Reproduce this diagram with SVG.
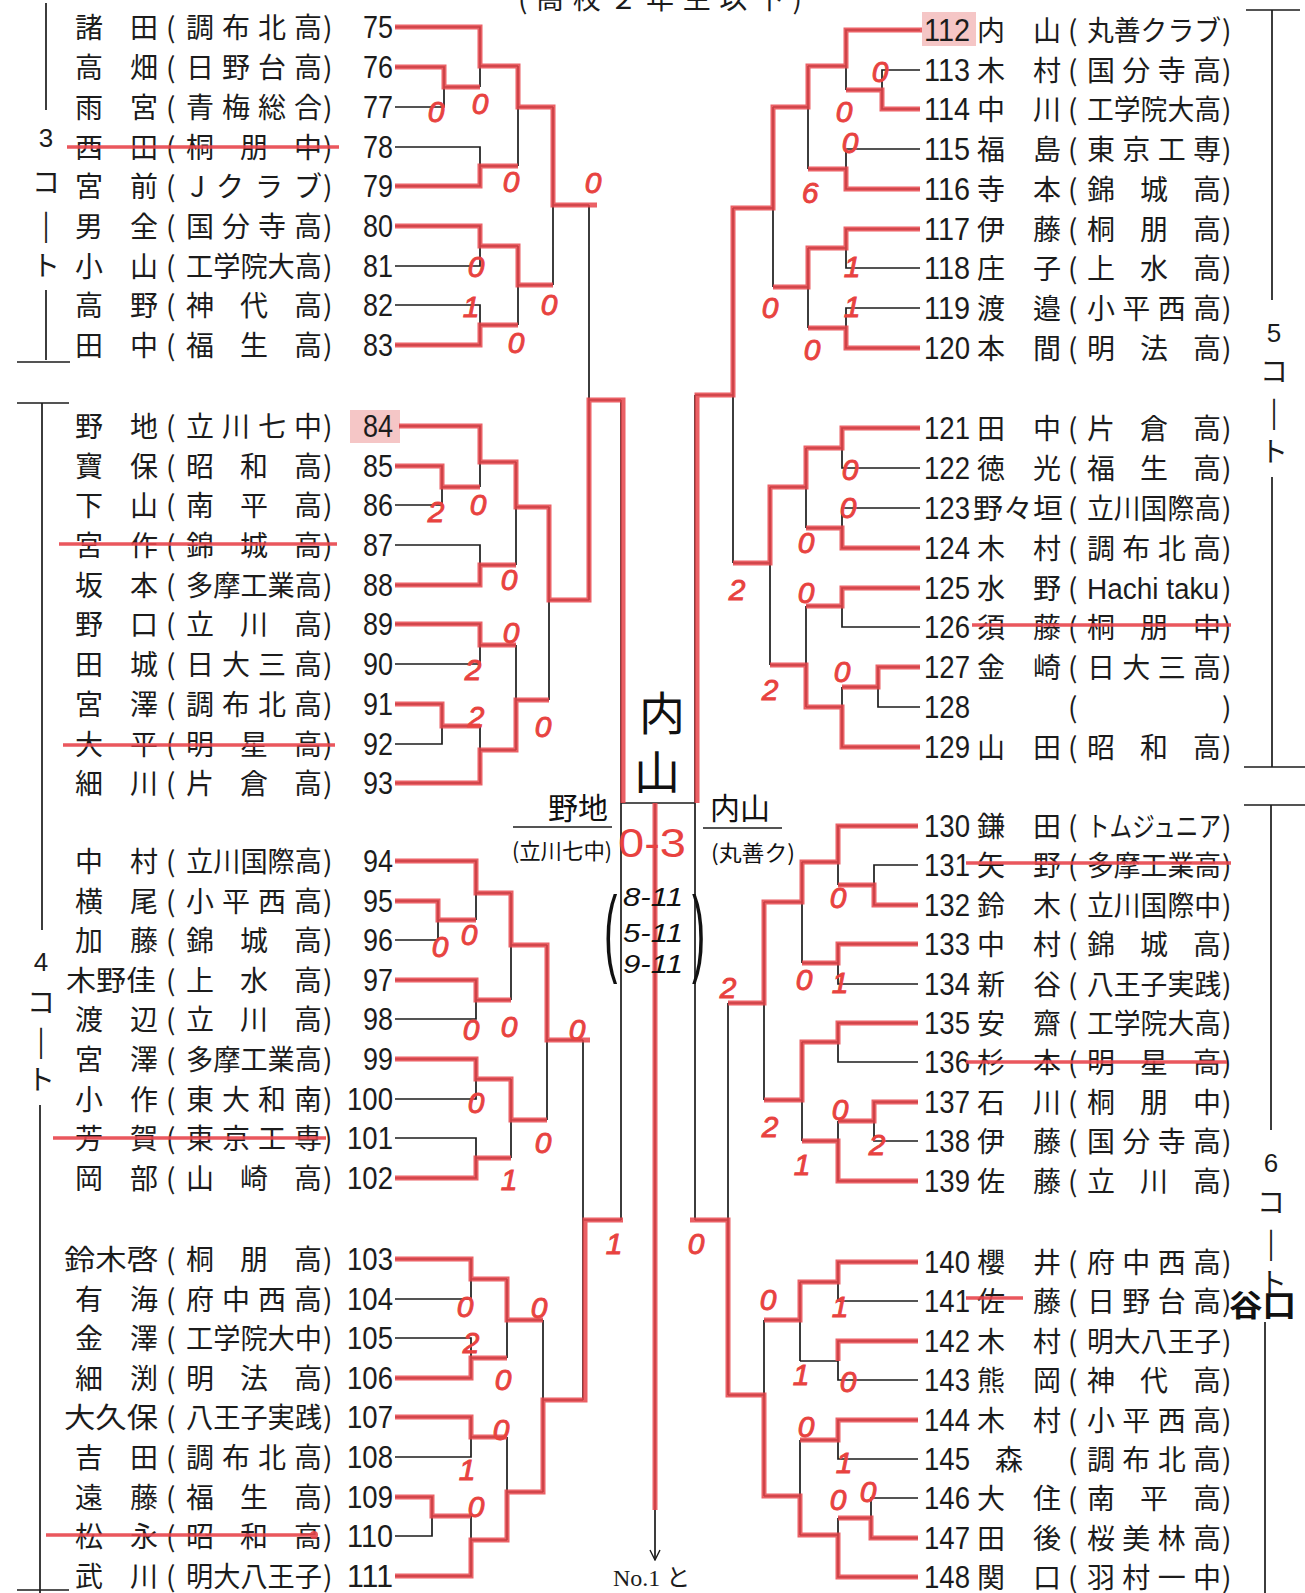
<svg xmlns="http://www.w3.org/2000/svg" width="1305" height="1593" viewBox="0 0 1305 1593">
<defs>
<style>
.n{font-family:"Noto Sans CJK JP","Noto Sans CJK SC",sans-serif;font-size:28px;fill:#1c1c1c}
.d{font-family:"Liberation Sans",Arial,sans-serif;font-size:31px;fill:#1c1c1c}
.e{text-anchor:end}
.bl{stroke:#1c1c1c;stroke-width:1.7;fill:none}
.rd{stroke:#e8454b;stroke-width:5;fill:none;opacity:0.85;stroke-linejoin:miter}
.st{stroke:#e8454b;stroke-width:3.5;fill:none;opacity:0.9}
.s{font-family:"Liberation Sans",Arial,sans-serif;font-style:italic;font-size:30px;fill:#e8423f;stroke:#e8423f;stroke-width:0.9;text-anchor:middle}
.hw{font-family:"Noto Sans CJK JP","Noto Sans CJK SC",sans-serif;fill:#111}
.hs{font-family:"Liberation Sans",Arial,sans-serif;font-style:italic;fill:#111}
.hl{fill:#f2b3b3;opacity:0.75}
</style>
<marker id="ar" viewBox="0 0 12 12" refX="11" refY="6" markerWidth="12" markerHeight="12" markerUnits="userSpaceOnUse" orient="auto">
<path d="M1 1 L11 6 L1 11" stroke="#1c1c1c" stroke-width="1.4" fill="none"/>
</marker>
</defs>
<rect width="1305" height="1593" fill="#ffffff"/>

<text class="n" x="518" y="9" textLength="284">(高校２年生以下)</text>

<rect class="hl" x="350" y="410" width="50" height="33"/>
<rect class="hl" x="922" y="12" width="54" height="34"/>

<g id="courts" class="bl">
<path d="M46 3V110M46 290V360M17 362H70"/>
<path d="M17 403H69M42 403V930M40 1105V1593M17 1590H69"/>
<path d="M1246 10H1300M1272 10V300M1272 477V767M1244 767H1305"/>
<path d="M1244 805H1305M1271 805V1130M1265 1322V1593"/>
</g>
<g id="courtlabels">
<text class="d" x="46" y="147" text-anchor="middle" style="font-size:26px">3</text>
<text class="n" x="46" y="193" text-anchor="middle">コ</text>
<text class="n" x="46" y="235" text-anchor="middle">|</text>
<text class="n" x="46" y="276" text-anchor="middle">ト</text>
<text class="d" x="41" y="971" text-anchor="middle" style="font-size:26px">4</text>
<text class="n" x="41" y="1013" text-anchor="middle">コ</text>
<text class="n" x="41" y="1051" text-anchor="middle">|</text>
<text class="n" x="41" y="1090" text-anchor="middle">ト</text>
<text class="d" x="1274" y="342" text-anchor="middle" style="font-size:26px">5</text>
<text class="n" x="1274" y="382" text-anchor="middle">コ</text>
<text class="n" x="1274" y="422" text-anchor="middle">|</text>
<text class="n" x="1274" y="462" text-anchor="middle">ト</text>
<text class="d" x="1271" y="1172" text-anchor="middle" style="font-size:26px">6</text>
<text class="n" x="1271" y="1213" text-anchor="middle">コ</text>
<text class="n" x="1271" y="1253" text-anchor="middle">|</text>
<text class="n" x="1273" y="1293" text-anchor="middle">ト</text>
</g>

<!-- LEFT ROWS -->
<g id="p75"><text class="n" x="75" y="37.5" textLength="83">諸田</text><text class="n" x="166" y="37.5">(</text><text class="n" x="186" y="37.5" textLength="136">調布北高</text><text class="n" x="323" y="37.5">)</text><text class="d e" x="393" y="38" textLength="30" lengthAdjust="spacingAndGlyphs">75</text></g>
<g id="p76"><text class="n" x="75" y="77.5" textLength="83">高畑</text><text class="n" x="166" y="77.5">(</text><text class="n" x="186" y="77.5" textLength="136">日野台高</text><text class="n" x="323" y="77.5">)</text><text class="d e" x="393" y="78" textLength="30" lengthAdjust="spacingAndGlyphs">76</text></g>
<g id="p77"><text class="n" x="75" y="117.5" textLength="83">雨宮</text><text class="n" x="166" y="117.5">(</text><text class="n" x="186" y="117.5" textLength="136">青梅総合</text><text class="n" x="323" y="117.5">)</text><text class="d e" x="393" y="118" textLength="30" lengthAdjust="spacingAndGlyphs">77</text></g>
<g id="p78"><text class="n" x="75" y="157.5" textLength="83">西田</text><text class="n" x="166" y="157.5">(</text><text class="n" x="186" y="157.5" textLength="136">桐朋中</text><text class="n" x="323" y="157.5">)</text><text class="d e" x="393" y="158" textLength="30" lengthAdjust="spacingAndGlyphs">78</text></g>
<g id="p79"><text class="n" x="75" y="196.5" textLength="83">宮前</text><text class="n" x="166" y="196.5">(</text><text class="n" x="190" y="196.5" textLength="132">Jクラブ</text><text class="n" x="323" y="196.5">)</text><text class="d e" x="393" y="197" textLength="30" lengthAdjust="spacingAndGlyphs">79</text></g>
<g id="p80"><text class="n" x="75" y="236.5" textLength="83">男全</text><text class="n" x="166" y="236.5">(</text><text class="n" x="186" y="236.5" textLength="136">国分寺高</text><text class="n" x="323" y="236.5">)</text><text class="d e" x="393" y="237" textLength="30" lengthAdjust="spacingAndGlyphs">80</text></g>
<g id="p81"><text class="n" x="75" y="276.5" textLength="83">小山</text><text class="n" x="166" y="276.5">(</text><text class="n" x="186" y="276.5" textLength="136" lengthAdjust="spacingAndGlyphs">工学院大高</text><text class="n" x="323" y="276.5">)</text><text class="d e" x="393" y="277" textLength="30" lengthAdjust="spacingAndGlyphs">81</text></g>
<g id="p82"><text class="n" x="75" y="315.5" textLength="83">高野</text><text class="n" x="166" y="315.5">(</text><text class="n" x="186" y="315.5" textLength="136">神代高</text><text class="n" x="323" y="315.5">)</text><text class="d e" x="393" y="316" textLength="30" lengthAdjust="spacingAndGlyphs">82</text></g>
<g id="p83"><text class="n" x="75" y="355.5" textLength="83">田中</text><text class="n" x="166" y="355.5">(</text><text class="n" x="186" y="355.5" textLength="136">福生高</text><text class="n" x="323" y="355.5">)</text><text class="d e" x="393" y="356" textLength="30" lengthAdjust="spacingAndGlyphs">83</text></g>
<g id="p84"><text class="n" x="75" y="436.5" textLength="83">野地</text><text class="n" x="166" y="436.5">(</text><text class="n" x="186" y="436.5" textLength="136">立川七中</text><text class="n" x="323" y="436.5">)</text><text class="d e" x="393" y="437" textLength="30" lengthAdjust="spacingAndGlyphs">84</text></g>
<g id="p85"><text class="n" x="75" y="476.5" textLength="83">寶保</text><text class="n" x="166" y="476.5">(</text><text class="n" x="186" y="476.5" textLength="136">昭和高</text><text class="n" x="323" y="476.5">)</text><text class="d e" x="393" y="477" textLength="30" lengthAdjust="spacingAndGlyphs">85</text></g>
<g id="p86"><text class="n" x="75" y="515.5" textLength="83">下山</text><text class="n" x="166" y="515.5">(</text><text class="n" x="186" y="515.5" textLength="136">南平高</text><text class="n" x="323" y="515.5">)</text><text class="d e" x="393" y="516" textLength="30" lengthAdjust="spacingAndGlyphs">86</text></g>
<g id="p87"><text class="n" x="75" y="555.5" textLength="83">宮作</text><text class="n" x="166" y="555.5">(</text><text class="n" x="186" y="555.5" textLength="136">錦城高</text><text class="n" x="323" y="555.5">)</text><text class="d e" x="393" y="556" textLength="30" lengthAdjust="spacingAndGlyphs">87</text></g>
<g id="p88"><text class="n" x="75" y="595.5" textLength="83">坂本</text><text class="n" x="166" y="595.5">(</text><text class="n" x="186" y="595.5" textLength="136" lengthAdjust="spacingAndGlyphs">多摩工業高</text><text class="n" x="323" y="595.5">)</text><text class="d e" x="393" y="596" textLength="30" lengthAdjust="spacingAndGlyphs">88</text></g>
<g id="p89"><text class="n" x="75" y="634.5" textLength="83">野口</text><text class="n" x="166" y="634.5">(</text><text class="n" x="186" y="634.5" textLength="136">立川高</text><text class="n" x="323" y="634.5">)</text><text class="d e" x="393" y="635" textLength="30" lengthAdjust="spacingAndGlyphs">89</text></g>
<g id="p90"><text class="n" x="75" y="674.5" textLength="83">田城</text><text class="n" x="166" y="674.5">(</text><text class="n" x="186" y="674.5" textLength="136">日大三高</text><text class="n" x="323" y="674.5">)</text><text class="d e" x="393" y="675" textLength="30" lengthAdjust="spacingAndGlyphs">90</text></g>
<g id="p91"><text class="n" x="75" y="714.5" textLength="83">宮澤</text><text class="n" x="166" y="714.5">(</text><text class="n" x="186" y="714.5" textLength="136">調布北高</text><text class="n" x="323" y="714.5">)</text><text class="d e" x="393" y="715" textLength="30" lengthAdjust="spacingAndGlyphs">91</text></g>
<g id="p92"><text class="n" x="75" y="754.5" textLength="83">大平</text><text class="n" x="166" y="754.5">(</text><text class="n" x="186" y="754.5" textLength="136">明星高</text><text class="n" x="323" y="754.5">)</text><text class="d e" x="393" y="755" textLength="30" lengthAdjust="spacingAndGlyphs">92</text></g>
<g id="p93"><text class="n" x="75" y="793.5" textLength="83">細川</text><text class="n" x="166" y="793.5">(</text><text class="n" x="186" y="793.5" textLength="136">片倉高</text><text class="n" x="323" y="793.5">)</text><text class="d e" x="393" y="794" textLength="30" lengthAdjust="spacingAndGlyphs">93</text></g>
<g id="p94"><text class="n" x="75" y="871.5" textLength="83">中村</text><text class="n" x="166" y="871.5">(</text><text class="n" x="186" y="871.5" textLength="136" lengthAdjust="spacingAndGlyphs">立川国際高</text><text class="n" x="323" y="871.5">)</text><text class="d e" x="393" y="872" textLength="30" lengthAdjust="spacingAndGlyphs">94</text></g>
<g id="p95"><text class="n" x="75" y="911.5" textLength="83">横尾</text><text class="n" x="166" y="911.5">(</text><text class="n" x="186" y="911.5" textLength="136">小平西高</text><text class="n" x="323" y="911.5">)</text><text class="d e" x="393" y="912" textLength="30" lengthAdjust="spacingAndGlyphs">95</text></g>
<g id="p96"><text class="n" x="75" y="950.5" textLength="83">加藤</text><text class="n" x="166" y="950.5">(</text><text class="n" x="186" y="950.5" textLength="136">錦城高</text><text class="n" x="323" y="950.5">)</text><text class="d e" x="393" y="951" textLength="30" lengthAdjust="spacingAndGlyphs">96</text></g>
<g id="p97"><text class="n" x="66" y="990.5" textLength="90" lengthAdjust="spacingAndGlyphs">木野佳</text><text class="n" x="166" y="990.5">(</text><text class="n" x="186" y="990.5" textLength="136">上水高</text><text class="n" x="323" y="990.5">)</text><text class="d e" x="393" y="991" textLength="30" lengthAdjust="spacingAndGlyphs">97</text></g>
<g id="p98"><text class="n" x="75" y="1029.5" textLength="83">渡辺</text><text class="n" x="166" y="1029.5">(</text><text class="n" x="186" y="1029.5" textLength="136">立川高</text><text class="n" x="323" y="1029.5">)</text><text class="d e" x="393" y="1030" textLength="30" lengthAdjust="spacingAndGlyphs">98</text></g>
<g id="p99"><text class="n" x="75" y="1069.5" textLength="83">宮澤</text><text class="n" x="166" y="1069.5">(</text><text class="n" x="186" y="1069.5" textLength="136" lengthAdjust="spacingAndGlyphs">多摩工業高</text><text class="n" x="323" y="1069.5">)</text><text class="d e" x="393" y="1070" textLength="30" lengthAdjust="spacingAndGlyphs">99</text></g>
<g id="p100"><text class="n" x="75" y="1109.5" textLength="83">小作</text><text class="n" x="166" y="1109.5">(</text><text class="n" x="186" y="1109.5" textLength="136">東大和南</text><text class="n" x="323" y="1109.5">)</text><text class="d e" x="393" y="1110" textLength="46" lengthAdjust="spacingAndGlyphs">100</text></g>
<g id="p101"><text class="n" x="75" y="1148.5" textLength="83">芳賀</text><text class="n" x="166" y="1148.5">(</text><text class="n" x="186" y="1148.5" textLength="136">東京工専</text><text class="n" x="323" y="1148.5">)</text><text class="d e" x="393" y="1149" textLength="46" lengthAdjust="spacingAndGlyphs">101</text></g>
<g id="p102"><text class="n" x="75" y="1188.5" textLength="83">岡部</text><text class="n" x="166" y="1188.5">(</text><text class="n" x="186" y="1188.5" textLength="136">山崎高</text><text class="n" x="323" y="1188.5">)</text><text class="d e" x="393" y="1189" textLength="46" lengthAdjust="spacingAndGlyphs">102</text></g>
<g id="p103"><text class="n" x="64" y="1269.5" textLength="94" lengthAdjust="spacingAndGlyphs">鈴木啓</text><text class="n" x="166" y="1269.5">(</text><text class="n" x="186" y="1269.5" textLength="136">桐朋高</text><text class="n" x="323" y="1269.5">)</text><text class="d e" x="393" y="1270" textLength="46" lengthAdjust="spacingAndGlyphs">103</text></g>
<g id="p104"><text class="n" x="75" y="1309.5" textLength="83">有海</text><text class="n" x="166" y="1309.5">(</text><text class="n" x="186" y="1309.5" textLength="136">府中西高</text><text class="n" x="323" y="1309.5">)</text><text class="d e" x="393" y="1310" textLength="46" lengthAdjust="spacingAndGlyphs">104</text></g>
<g id="p105"><text class="n" x="75" y="1348.5" textLength="83">金澤</text><text class="n" x="166" y="1348.5">(</text><text class="n" x="186" y="1348.5" textLength="136" lengthAdjust="spacingAndGlyphs">工学院大中</text><text class="n" x="323" y="1348.5">)</text><text class="d e" x="393" y="1349" textLength="46" lengthAdjust="spacingAndGlyphs">105</text></g>
<g id="p106"><text class="n" x="75" y="1388.5" textLength="83">細渕</text><text class="n" x="166" y="1388.5">(</text><text class="n" x="186" y="1388.5" textLength="136">明法高</text><text class="n" x="323" y="1388.5">)</text><text class="d e" x="393" y="1389" textLength="46" lengthAdjust="spacingAndGlyphs">106</text></g>
<g id="p107"><text class="n" x="64" y="1427.5" textLength="94" lengthAdjust="spacingAndGlyphs">大久保</text><text class="n" x="166" y="1427.5">(</text><text class="n" x="186" y="1427.5" textLength="136" lengthAdjust="spacingAndGlyphs">八王子実践</text><text class="n" x="323" y="1427.5">)</text><text class="d e" x="393" y="1428" textLength="46" lengthAdjust="spacingAndGlyphs">107</text></g>
<g id="p108"><text class="n" x="75" y="1467.5" textLength="83">吉田</text><text class="n" x="166" y="1467.5">(</text><text class="n" x="186" y="1467.5" textLength="136">調布北高</text><text class="n" x="323" y="1467.5">)</text><text class="d e" x="393" y="1468" textLength="46" lengthAdjust="spacingAndGlyphs">108</text></g>
<g id="p109"><text class="n" x="75" y="1507.5" textLength="83">遠藤</text><text class="n" x="166" y="1507.5">(</text><text class="n" x="186" y="1507.5" textLength="136">福生高</text><text class="n" x="323" y="1507.5">)</text><text class="d e" x="393" y="1508" textLength="46" lengthAdjust="spacingAndGlyphs">109</text></g>
<g id="p110"><text class="n" x="75" y="1546.5" textLength="83">松永</text><text class="n" x="166" y="1546.5">(</text><text class="n" x="186" y="1546.5" textLength="136">昭和高</text><text class="n" x="323" y="1546.5">)</text><text class="d e" x="393" y="1547" textLength="46" lengthAdjust="spacingAndGlyphs">110</text></g>
<g id="p111"><text class="n" x="75" y="1586.5" textLength="83">武川</text><text class="n" x="166" y="1586.5">(</text><text class="n" x="186" y="1586.5" textLength="136" lengthAdjust="spacingAndGlyphs">明大八王子</text><text class="n" x="323" y="1586.5">)</text><text class="d e" x="393" y="1587" textLength="46" lengthAdjust="spacingAndGlyphs">111</text></g>

<!-- RIGHT ROWS -->
<g id="p112"><text class="d" x="924" y="41" textLength="46" lengthAdjust="spacingAndGlyphs">112</text><text class="n" x="977" y="40.5" textLength="84">内山</text><text class="n" x="1068" y="40.5">(</text><text class="n" x="1087" y="40.5" textLength="134" lengthAdjust="spacingAndGlyphs">丸善クラブ</text><text class="n" x="1222" y="40.5">)</text></g>
<g id="p113"><text class="d" x="924" y="81" textLength="46" lengthAdjust="spacingAndGlyphs">113</text><text class="n" x="977" y="80.5" textLength="84">木村</text><text class="n" x="1068" y="80.5">(</text><text class="n" x="1087" y="80.5" textLength="134">国分寺高</text><text class="n" x="1222" y="80.5">)</text></g>
<g id="p114"><text class="d" x="924" y="120" textLength="46" lengthAdjust="spacingAndGlyphs">114</text><text class="n" x="977" y="119.5" textLength="84">中川</text><text class="n" x="1068" y="119.5">(</text><text class="n" x="1087" y="119.5" textLength="134" lengthAdjust="spacingAndGlyphs">工学院大高</text><text class="n" x="1222" y="119.5">)</text></g>
<g id="p115"><text class="d" x="924" y="160" textLength="46" lengthAdjust="spacingAndGlyphs">115</text><text class="n" x="977" y="159.5" textLength="84">福島</text><text class="n" x="1068" y="159.5">(</text><text class="n" x="1087" y="159.5" textLength="134">東京工専</text><text class="n" x="1222" y="159.5">)</text></g>
<g id="p116"><text class="d" x="924" y="200" textLength="46" lengthAdjust="spacingAndGlyphs">116</text><text class="n" x="977" y="199.5" textLength="84">寺本</text><text class="n" x="1068" y="199.5">(</text><text class="n" x="1087" y="199.5" textLength="134">錦城高</text><text class="n" x="1222" y="199.5">)</text></g>
<g id="p117"><text class="d" x="924" y="240" textLength="46" lengthAdjust="spacingAndGlyphs">117</text><text class="n" x="977" y="239.5" textLength="84">伊藤</text><text class="n" x="1068" y="239.5">(</text><text class="n" x="1087" y="239.5" textLength="134">桐朋高</text><text class="n" x="1222" y="239.5">)</text></g>
<g id="p118"><text class="d" x="924" y="279" textLength="46" lengthAdjust="spacingAndGlyphs">118</text><text class="n" x="977" y="278.5" textLength="84">庄子</text><text class="n" x="1068" y="278.5">(</text><text class="n" x="1087" y="278.5" textLength="134">上水高</text><text class="n" x="1222" y="278.5">)</text></g>
<g id="p119"><text class="d" x="924" y="319" textLength="46" lengthAdjust="spacingAndGlyphs">119</text><text class="n" x="977" y="318.5" textLength="84">渡邉</text><text class="n" x="1068" y="318.5">(</text><text class="n" x="1087" y="318.5" textLength="134">小平西高</text><text class="n" x="1222" y="318.5">)</text></g>
<g id="p120"><text class="d" x="924" y="359" textLength="46" lengthAdjust="spacingAndGlyphs">120</text><text class="n" x="977" y="358.5" textLength="84">本間</text><text class="n" x="1068" y="358.5">(</text><text class="n" x="1087" y="358.5" textLength="134">明法高</text><text class="n" x="1222" y="358.5">)</text></g>
<g id="p121"><text class="d" x="924" y="439" textLength="46" lengthAdjust="spacingAndGlyphs">121</text><text class="n" x="977" y="438.5" textLength="84">田中</text><text class="n" x="1068" y="438.5">(</text><text class="n" x="1087" y="438.5" textLength="134">片倉高</text><text class="n" x="1222" y="438.5">)</text></g>
<g id="p122"><text class="d" x="924" y="479" textLength="46" lengthAdjust="spacingAndGlyphs">122</text><text class="n" x="977" y="478.5" textLength="84">徳光</text><text class="n" x="1068" y="478.5">(</text><text class="n" x="1087" y="478.5" textLength="134">福生高</text><text class="n" x="1222" y="478.5">)</text></g>
<g id="p123"><text class="d" x="924" y="519" textLength="46" lengthAdjust="spacingAndGlyphs">123</text><text class="n" x="973" y="518.5" textLength="90" lengthAdjust="spacingAndGlyphs">野々垣</text><text class="n" x="1068" y="518.5">(</text><text class="n" x="1087" y="518.5" textLength="134" lengthAdjust="spacingAndGlyphs">立川国際高</text><text class="n" x="1222" y="518.5">)</text></g>
<g id="p124"><text class="d" x="924" y="559" textLength="46" lengthAdjust="spacingAndGlyphs">124</text><text class="n" x="977" y="558.5" textLength="84">木村</text><text class="n" x="1068" y="558.5">(</text><text class="n" x="1087" y="558.5" textLength="134">調布北高</text><text class="n" x="1222" y="558.5">)</text></g>
<g id="p125"><text class="d" x="924" y="599" textLength="46" lengthAdjust="spacingAndGlyphs">125</text><text class="n" x="977" y="598.5" textLength="84">水野</text><text class="n" x="1068" y="598.5">(</text><text class="d" x="1087" y="599" textLength="132" lengthAdjust="spacingAndGlyphs" style="font-size:29px">Hachi taku</text><text class="n" x="1222" y="598.5">)</text></g>
<g id="p126"><text class="d" x="924" y="638" textLength="46" lengthAdjust="spacingAndGlyphs">126</text><text class="n" x="977" y="637.5" textLength="84">須藤</text><text class="n" x="1068" y="637.5">(</text><text class="n" x="1087" y="637.5" textLength="134">桐朋中</text><text class="n" x="1222" y="637.5">)</text></g>
<g id="p127"><text class="d" x="924" y="678" textLength="46" lengthAdjust="spacingAndGlyphs">127</text><text class="n" x="977" y="677.5" textLength="84">金崎</text><text class="n" x="1068" y="677.5">(</text><text class="n" x="1087" y="677.5" textLength="134">日大三高</text><text class="n" x="1222" y="677.5">)</text></g>
<g id="p128"><text class="d" x="924" y="718" textLength="46" lengthAdjust="spacingAndGlyphs">128</text><text class="n" x="1068" y="717.5">(</text><text class="n" x="1222" y="717.5">)</text></g>
<g id="p129"><text class="d" x="924" y="758" textLength="46" lengthAdjust="spacingAndGlyphs">129</text><text class="n" x="977" y="757.5" textLength="84">山田</text><text class="n" x="1068" y="757.5">(</text><text class="n" x="1087" y="757.5" textLength="134">昭和高</text><text class="n" x="1222" y="757.5">)</text></g>
<g id="p130"><text class="d" x="924" y="837" textLength="46" lengthAdjust="spacingAndGlyphs">130</text><text class="n" x="977" y="836.5" textLength="84">鎌田</text><text class="n" x="1068" y="836.5">(</text><text class="n" x="1087" y="836.5" textLength="134" lengthAdjust="spacingAndGlyphs">トムジュニア</text><text class="n" x="1222" y="836.5">)</text></g>
<g id="p131"><text class="d" x="924" y="876" textLength="46" lengthAdjust="spacingAndGlyphs">131</text><text class="n" x="977" y="875.5" textLength="84">矢野</text><text class="n" x="1068" y="875.5">(</text><text class="n" x="1087" y="875.5" textLength="134" lengthAdjust="spacingAndGlyphs">多摩工業高</text><text class="n" x="1222" y="875.5">)</text></g>
<g id="p132"><text class="d" x="924" y="916" textLength="46" lengthAdjust="spacingAndGlyphs">132</text><text class="n" x="977" y="915.5" textLength="84">鈴木</text><text class="n" x="1068" y="915.5">(</text><text class="n" x="1087" y="915.5" textLength="134" lengthAdjust="spacingAndGlyphs">立川国際中</text><text class="n" x="1222" y="915.5">)</text></g>
<g id="p133"><text class="d" x="924" y="955" textLength="46" lengthAdjust="spacingAndGlyphs">133</text><text class="n" x="977" y="954.5" textLength="84">中村</text><text class="n" x="1068" y="954.5">(</text><text class="n" x="1087" y="954.5" textLength="134">錦城高</text><text class="n" x="1222" y="954.5">)</text></g>
<g id="p134"><text class="d" x="924" y="995" textLength="46" lengthAdjust="spacingAndGlyphs">134</text><text class="n" x="977" y="994.5" textLength="84">新谷</text><text class="n" x="1068" y="994.5">(</text><text class="n" x="1087" y="994.5" textLength="134" lengthAdjust="spacingAndGlyphs">八王子実践</text><text class="n" x="1222" y="994.5">)</text></g>
<g id="p135"><text class="d" x="924" y="1034" textLength="46" lengthAdjust="spacingAndGlyphs">135</text><text class="n" x="977" y="1033.5" textLength="84">安齋</text><text class="n" x="1068" y="1033.5">(</text><text class="n" x="1087" y="1033.5" textLength="134" lengthAdjust="spacingAndGlyphs">工学院大高</text><text class="n" x="1222" y="1033.5">)</text></g>
<g id="p136"><text class="d" x="924" y="1073" textLength="46" lengthAdjust="spacingAndGlyphs">136</text><text class="n" x="977" y="1072.5" textLength="84">杉本</text><text class="n" x="1068" y="1072.5">(</text><text class="n" x="1087" y="1072.5" textLength="134">明星高</text><text class="n" x="1222" y="1072.5">)</text></g>
<g id="p137"><text class="d" x="924" y="1113" textLength="46" lengthAdjust="spacingAndGlyphs">137</text><text class="n" x="977" y="1112.5" textLength="84">石川</text><text class="n" x="1068" y="1112.5">(</text><text class="n" x="1087" y="1112.5" textLength="134">桐朋中</text><text class="n" x="1222" y="1112.5">)</text></g>
<g id="p138"><text class="d" x="924" y="1152" textLength="46" lengthAdjust="spacingAndGlyphs">138</text><text class="n" x="977" y="1151.5" textLength="84">伊藤</text><text class="n" x="1068" y="1151.5">(</text><text class="n" x="1087" y="1151.5" textLength="134">国分寺高</text><text class="n" x="1222" y="1151.5">)</text></g>
<g id="p139"><text class="d" x="924" y="1192" textLength="46" lengthAdjust="spacingAndGlyphs">139</text><text class="n" x="977" y="1191.5" textLength="84">佐藤</text><text class="n" x="1068" y="1191.5">(</text><text class="n" x="1087" y="1191.5" textLength="134">立川高</text><text class="n" x="1222" y="1191.5">)</text></g>
<g id="p140"><text class="d" x="924" y="1273" textLength="46" lengthAdjust="spacingAndGlyphs">140</text><text class="n" x="977" y="1272.5" textLength="84">櫻井</text><text class="n" x="1068" y="1272.5">(</text><text class="n" x="1087" y="1272.5" textLength="134">府中西高</text><text class="n" x="1222" y="1272.5">)</text></g>
<g id="p141"><text class="d" x="924" y="1312" textLength="46" lengthAdjust="spacingAndGlyphs">141</text><text class="n" x="977" y="1311.5" textLength="84">佐藤</text><text class="n" x="1068" y="1311.5">(</text><text class="n" x="1087" y="1311.5" textLength="134">日野台高</text><text class="n" x="1222" y="1311.5">)</text></g>
<g id="p142"><text class="d" x="924" y="1352" textLength="46" lengthAdjust="spacingAndGlyphs">142</text><text class="n" x="977" y="1351.5" textLength="84">木村</text><text class="n" x="1068" y="1351.5">(</text><text class="n" x="1087" y="1351.5" textLength="134" lengthAdjust="spacingAndGlyphs">明大八王子</text><text class="n" x="1222" y="1351.5">)</text></g>
<g id="p143"><text class="d" x="924" y="1391" textLength="46" lengthAdjust="spacingAndGlyphs">143</text><text class="n" x="977" y="1390.5" textLength="84">熊岡</text><text class="n" x="1068" y="1390.5">(</text><text class="n" x="1087" y="1390.5" textLength="134">神代高</text><text class="n" x="1222" y="1390.5">)</text></g>
<g id="p144"><text class="d" x="924" y="1431" textLength="46" lengthAdjust="spacingAndGlyphs">144</text><text class="n" x="977" y="1430.5" textLength="84">木村</text><text class="n" x="1068" y="1430.5">(</text><text class="n" x="1087" y="1430.5" textLength="134">小平西高</text><text class="n" x="1222" y="1430.5">)</text></g>
<g id="p145"><text class="d" x="924" y="1470" textLength="46" lengthAdjust="spacingAndGlyphs">145</text><text class="n" x="995" y="1469.5">森</text><text class="n" x="1068" y="1469.5">(</text><text class="n" x="1087" y="1469.5" textLength="134">調布北高</text><text class="n" x="1222" y="1469.5">)</text></g>
<g id="p146"><text class="d" x="924" y="1509" textLength="46" lengthAdjust="spacingAndGlyphs">146</text><text class="n" x="977" y="1508.5" textLength="84">大住</text><text class="n" x="1068" y="1508.5">(</text><text class="n" x="1087" y="1508.5" textLength="134">南平高</text><text class="n" x="1222" y="1508.5">)</text></g>
<g id="p147"><text class="d" x="924" y="1549" textLength="46" lengthAdjust="spacingAndGlyphs">147</text><text class="n" x="977" y="1548.5" textLength="84">田後</text><text class="n" x="1068" y="1548.5">(</text><text class="n" x="1087" y="1548.5" textLength="134">桜美林高</text><text class="n" x="1222" y="1548.5">)</text></g>
<g id="p148"><text class="d" x="924" y="1588" textLength="46" lengthAdjust="spacingAndGlyphs">148</text><text class="n" x="977" y="1587.5" textLength="84">関口</text><text class="n" x="1068" y="1587.5">(</text><text class="n" x="1087" y="1587.5" textLength="134">羽村一中</text><text class="n" x="1222" y="1587.5">)</text></g>

<!-- CONNECTORS -->
<g id="connectors">
<g class="bl">
<path d="M395 27H480V87M395 67H444V107H395M444 87H480M480 66H518M395 147H480V186H395M480 166H518M518 66V166M518 107H553M395 226H480V266H395M480 246H518M395 305H480V345H395M480 325H518M518 246V325M518 285H553M553 107V285M553 205H589M589 205V600M589 400H621"/>
<path d="M399 426H480V487M395 466H442V505H395M442 487H480M480 462H516M395 545H480V585H395M480 565H516M516 462V565M516 507H549M395 624H480V664H395M480 645H516M395 704H442V744H395M442 726H480M395 783H480V726M480 750H516M516 645V750M516 700H549M549 507V700M549 600H589"/>
<path d="M395 861H476V920M395 901H438V940H395M438 920H476M476 893H511M395 980H476V1019H395M476 1000H511M511 893V1000M511 945H547M395 1059H476V1099H395M476 1079H511M395 1138H476V1178H395M476 1158H511M511 1079V1158M511 1120H547M547 945V1120M547 1040H583"/>
<path d="M395 1259H471V1299H395M471 1279H507M395 1338H471V1378H395M471 1358H507M507 1279V1358M507 1320H543M395 1417H471V1457H395M471 1437H507M395 1497H432V1536H395M432 1516H471M395 1576H471V1516M471 1540H507M507 1437V1540M507 1492H543M543 1320V1492M543 1400H583M583 1040V1400M583 1220H621M621 400V1220"/>
<path d="M920 30H846V90M920 70H882V109H920M882 90H846M846 66H808M920 149H846V189H920M846 169H808M808 66V169M808 107H773M920 229H846V268H920M846 248H808M920 308H846V348H920M846 328H808M808 248V328M808 287H773M773 107V287M773 208H733M733 208V563M733 395H695"/>
<path d="M920 428H842V468H920M842 448H806M920 508H842V548H920M842 528H806M806 448V528M806 487H770M920 588H842V627H920M842 606H806M920 667H878V707H920M878 687H842M920 747H842V687M842 707H806M806 606V707M806 665H770M770 487V665M770 563H733"/>
<path d="M918 826H838V885M918 865H874V905H918M874 885H838M838 862H802M918 944H838V984H918M838 963H802M802 862V963M802 902H764M918 1023H838V1062H918M838 1042H802M918 1102H874V1141H918M874 1121H838M918 1181H838V1121M838 1141H802M802 1042V1141M802 1100H764M764 902V1100M764 1003H728M728 1003V1395M728 1220H695"/>
<path d="M918 1262H838V1301H918M838 1282H800M918 1341H838V1380H918M838 1361H800M800 1282V1361M800 1320H764M918 1420H838V1459H918M838 1440H800M918 1498H871V1538H918M871 1518H838M918 1577H838V1518M838 1535H800M800 1440V1535M800 1496H764M764 1320V1496M764 1395H728"/>
<path d="M695 395V1220M621 803H695"/>
<path d="M655 803V1560" marker-end="url(#ar)"/>
</g>
<g class="rd">
<path d="M395 27H480V66H518V107H553V205H597M395 67H444V87H480M395 186H480V166H518M395 226H480V246H518V285H553M395 345H480V325H518"/>
<path d="M399 426H480V462H516V507H549V600H589V400H623V803M395 466H442V487H480M395 585H480V565H516M395 624H480V645H516M395 704H442V726H480M395 783H480V750H516V700H549"/>
<path d="M395 861H476V893H511V945H547V1040H590M395 901H438V920H476M395 980H476V1000H511M395 1059H476V1079H511V1120H547M395 1178H476V1158H511"/>
<path d="M395 1259H471V1279H507V1320H543M395 1378H471V1358H507M395 1417H471V1437H507M395 1497H432V1516H471M395 1576H471V1540H507V1492H543V1400H585V1220H623"/>
<path d="M922 30H846V66H808V107H773V208H733V395H697V803M920 109H882V90H846M920 189H846V169H808M920 229H846V248H808V287H773M920 348H846V328H808"/>
<path d="M920 428H842V448H806V487H770V563H733M920 548H842V528H806M920 588H842V606H806M920 667H878V687H842M920 747H842V707H806V665H770"/>
<path d="M918 826H838V862H802V902H764V1003H728M918 905H874V885H838M918 944H838V963H802M918 1023H838V1042H802V1100H764M918 1102H874V1121H838M918 1181H838V1141H802"/>
<path d="M918 1262H838V1282H800V1320H764M918 1341H838V1361M918 1420H838V1440H800M918 1538H871V1518H838M918 1577H838V1535H800V1496H764V1395H728V1220H690"/>
<path d="M655 803V1510"/>
</g>
</g>

<g id="strikes" class="st">
<path d="M67 147H339M59 544H337M63 745H335M53 1138H326M46 1535H316M972 625H1231M966 863H1231M966 1062H1227M966 1298H1023"/>
<circle cx="314" cy="1535" r="4" fill="#e8454b" stroke="none"/>
</g>

<g id="scores">
<text class="s" x="436" y="122">0</text><text class="s" x="480" y="114">0</text><text class="s" x="511" y="192">0</text><text class="s" x="593" y="193">0</text><text class="s" x="476" y="277">0</text><text class="s" x="471" y="317">1</text><text class="s" x="549" y="315">0</text><text class="s" x="516" y="353">0</text>
<text class="s" x="436" y="522">2</text><text class="s" x="478" y="515">0</text><text class="s" x="509" y="590">0</text><text class="s" x="511" y="643">0</text><text class="s" x="473" y="680">2</text><text class="s" x="476" y="727">2</text><text class="s" x="543" y="737">0</text>
<text class="s" x="440" y="957">0</text><text class="s" x="469" y="945">0</text><text class="s" x="471" y="1040">0</text><text class="s" x="509" y="1037">0</text><text class="s" x="577" y="1040">0</text><text class="s" x="476" y="1113">0</text><text class="s" x="543" y="1153">0</text><text class="s" x="509" y="1190">1</text>
<text class="s" x="614" y="1254">1</text><text class="s" x="465" y="1317">0</text><text class="s" x="539" y="1318">0</text><text class="s" x="471" y="1353">2</text><text class="s" x="503" y="1390">0</text><text class="s" x="501" y="1440">0</text><text class="s" x="467" y="1480">1</text><text class="s" x="476" y="1517">0</text>
<text class="s" x="880" y="82">0</text><text class="s" x="844" y="122">0</text><text class="s" x="850" y="153">0</text><text class="s" x="810" y="203">6</text><text class="s" x="852" y="277">1</text><text class="s" x="852" y="317">1</text><text class="s" x="770" y="318">0</text><text class="s" x="812" y="360">0</text>
<text class="s" x="850" y="480">0</text><text class="s" x="848" y="518">0</text><text class="s" x="806" y="553">0</text><text class="s" x="737" y="600">2</text><text class="s" x="806" y="603">0</text><text class="s" x="842" y="682">0</text><text class="s" x="770" y="700">2</text>
<text class="s" x="838" y="908">0</text><text class="s" x="728" y="998">2</text><text class="s" x="804" y="990">0</text><text class="s" x="840" y="993">1</text><text class="s" x="840" y="1120">0</text><text class="s" x="877" y="1155">2</text><text class="s" x="770" y="1137">2</text><text class="s" x="802" y="1175">1</text>
<text class="s" x="696" y="1254">0</text><text class="s" x="768" y="1310">0</text><text class="s" x="840" y="1317">1</text><text class="s" x="801" y="1385">1</text><text class="s" x="848" y="1392">0</text><text class="s" x="806" y="1437">0</text><text class="s" x="844" y="1473">1</text><text class="s" x="838" y="1510">0</text><text class="s" x="868" y="1502">0</text>
</g>

<g id="final">
<text class="hw" x="662" y="730" text-anchor="middle" style="font-size:46px">内</text>
<text class="hw" x="657" y="789" text-anchor="middle" style="font-size:46px">山</text>
<text class="hw" x="578" y="819" text-anchor="middle" style="font-size:30px">野地</text>
<path d="M513 827H612M703 828H782" class="bl"/>
<text class="hw" x="512" y="859" textLength="100" lengthAdjust="spacingAndGlyphs" style="font-size:22px">(立川七中)</text>
<text x="618" y="857" textLength="68" lengthAdjust="spacingAndGlyphs" style="font-family:'Liberation Sans',Arial,sans-serif;font-size:40px;fill:#e8423f">0-3</text>
<text class="hw" x="740" y="819" text-anchor="middle" style="font-size:30px">内山</text>
<text class="hw" x="711" y="861" textLength="84" lengthAdjust="spacingAndGlyphs" style="font-size:22px">(丸善ク)</text>
<text class="hs" x="623" y="906" textLength="60" lengthAdjust="spacingAndGlyphs" style="font-size:25px">8-11</text>
<text class="hs" x="623" y="942" textLength="60" lengthAdjust="spacingAndGlyphs" style="font-size:25px">5-11</text>
<text class="hs" x="623" y="973" textLength="60" lengthAdjust="spacingAndGlyphs" style="font-size:25px">9-11</text>
<text class="hs" transform="translate(604 964) scale(1 2.4)" style="font-size:40px;font-style:normal">(</text>
<text class="hs" transform="translate(692 964) scale(1 2.4)" style="font-size:40px;font-style:normal">)</text>
<text x="613" y="1586" style="font-family:'Liberation Serif',serif;font-size:24px;fill:#1c1c1c">No.1 <tspan style="font-family:'Noto Sans CJK JP',sans-serif">と</tspan></text>
<text class="hw" x="1229" y="1316" textLength="67" lengthAdjust="spacingAndGlyphs" style="font-size:30px;font-weight:bold">谷口</text>
</g>
</svg>
